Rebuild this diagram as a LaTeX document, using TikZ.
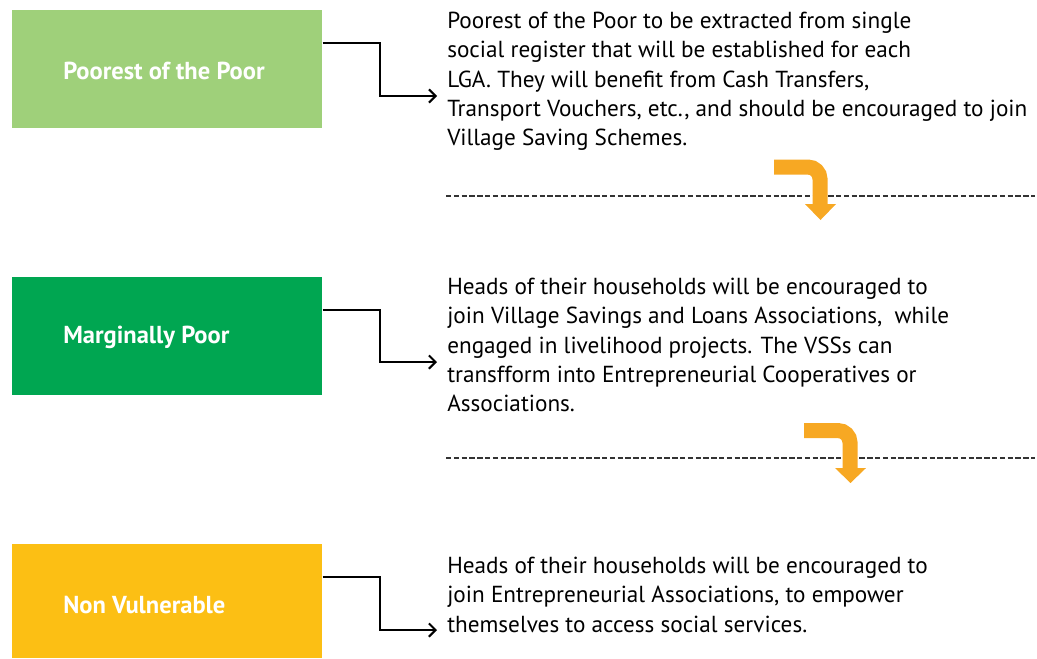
\documentclass[tikz,border=0pt]{standalone}
\usepackage{fontspec}
\setmainfont{PT Sans}
\usetikzlibrary{arrows.meta}
\definecolor{lgreen}{HTML}{9FD07A}
\definecolor{dgreen}{HTML}{00A651}
\definecolor{yel}{HTML}{FCBF14}
\definecolor{org}{HTML}{F7A823}
\tikzset{
  catbox/.style={fill=#1, draw=none, minimum width=232.5pt, inner sep=0pt, anchor=north west},
  lbl/.style={text=white, font=\fontsize{18.4}{22}\selectfont\bfseries, anchor=base west, inner sep=0pt},
  desc/.style={font=\fontsize{17.4}{21.95}\selectfont, align=left, anchor=north west, inner sep=0pt},
  conn/.style={line width=1.5pt, -{Straight Barb[length=5pt,width=10pt,line width=1.5pt]}},
  sepline/.style={line width=1.9pt, dash pattern=on 4.1pt off 1.75pt, black!80},
  turnarrow/.style={draw=org, line width=11.25pt, rounded corners=9pt},
}
\begin{document}
\begin{tikzpicture}[x=0.75pt,y=-0.75pt]
\useasboundingbox (0,0) rectangle (1037,658);
\node[catbox=lgreen, minimum height=88.5pt] (b1) at (12,10) {};
\node[catbox=dgreen, minimum height=88.5pt] (b2) at (12,277) {};
\node[catbox=yel, minimum height=85.5pt] (b3) at (12,544) {};
\node[lbl] (l1) at (63,79) {Poorest of the Poor};
\node[lbl] (l2) at (63,343) {Marginally Poor};
\node[lbl] (l3) at (63,613) {Non Vulnerable};
\node[desc] (t1) at (447,12) {Poorest of the Poor to be extracted from single\\social register that will be established for each\\LGA. They will benefit from Cash Transfers,\\Transport Vouchers, etc., and should be encouraged to join\\Village Saving Schemes.};
\node[desc] (t2) at (447,278) {Heads of their households will be encouraged to\\join Village Savings and Loans Associations,~ while\\engaged in livelihood projects. The VSSs can\\transfform into Entrepreneurial Cooperatives or\\Associations.};
\node[desc] (t3) at (447,557) {Heads of their households will be encouraged to\\join Entrepreneurial Associations, to empower\\themselves to access social services.};
\coordinate (e1) at (437,96);
\coordinate (e2) at (437,362);
\coordinate (e3) at (437,630);
\draw[conn] (b1.east |- 0,43) -- (380,43) |- (e1);
\draw[conn] (b2.east |- 0,310) -- (380,310) |- (e2);
\draw[conn] (b3.east |- 0,577) -- (380,577) |- (e3);
\coordinate (s1a) at (446,196); \coordinate (s1b) at (1035,196);
\coordinate (s2a) at (446,458); \coordinate (s2b) at (1035,458);
\draw[sepline] (s1a) -- (s1b);
\draw[sepline] (s2a) -- (s2b);
\draw[turnarrow] (774,167) -- (820,167) -- (820,205);
\fill[org] (805,204) -- (836,204) -- (820.5,220) -- cycle;
\draw[turnarrow] (804,430.5) -- (850,430.5) -- (850,469);
\fill[org] (835,468) -- (866,468) -- (850.5,483) -- cycle;
\end{tikzpicture}
\end{document}
